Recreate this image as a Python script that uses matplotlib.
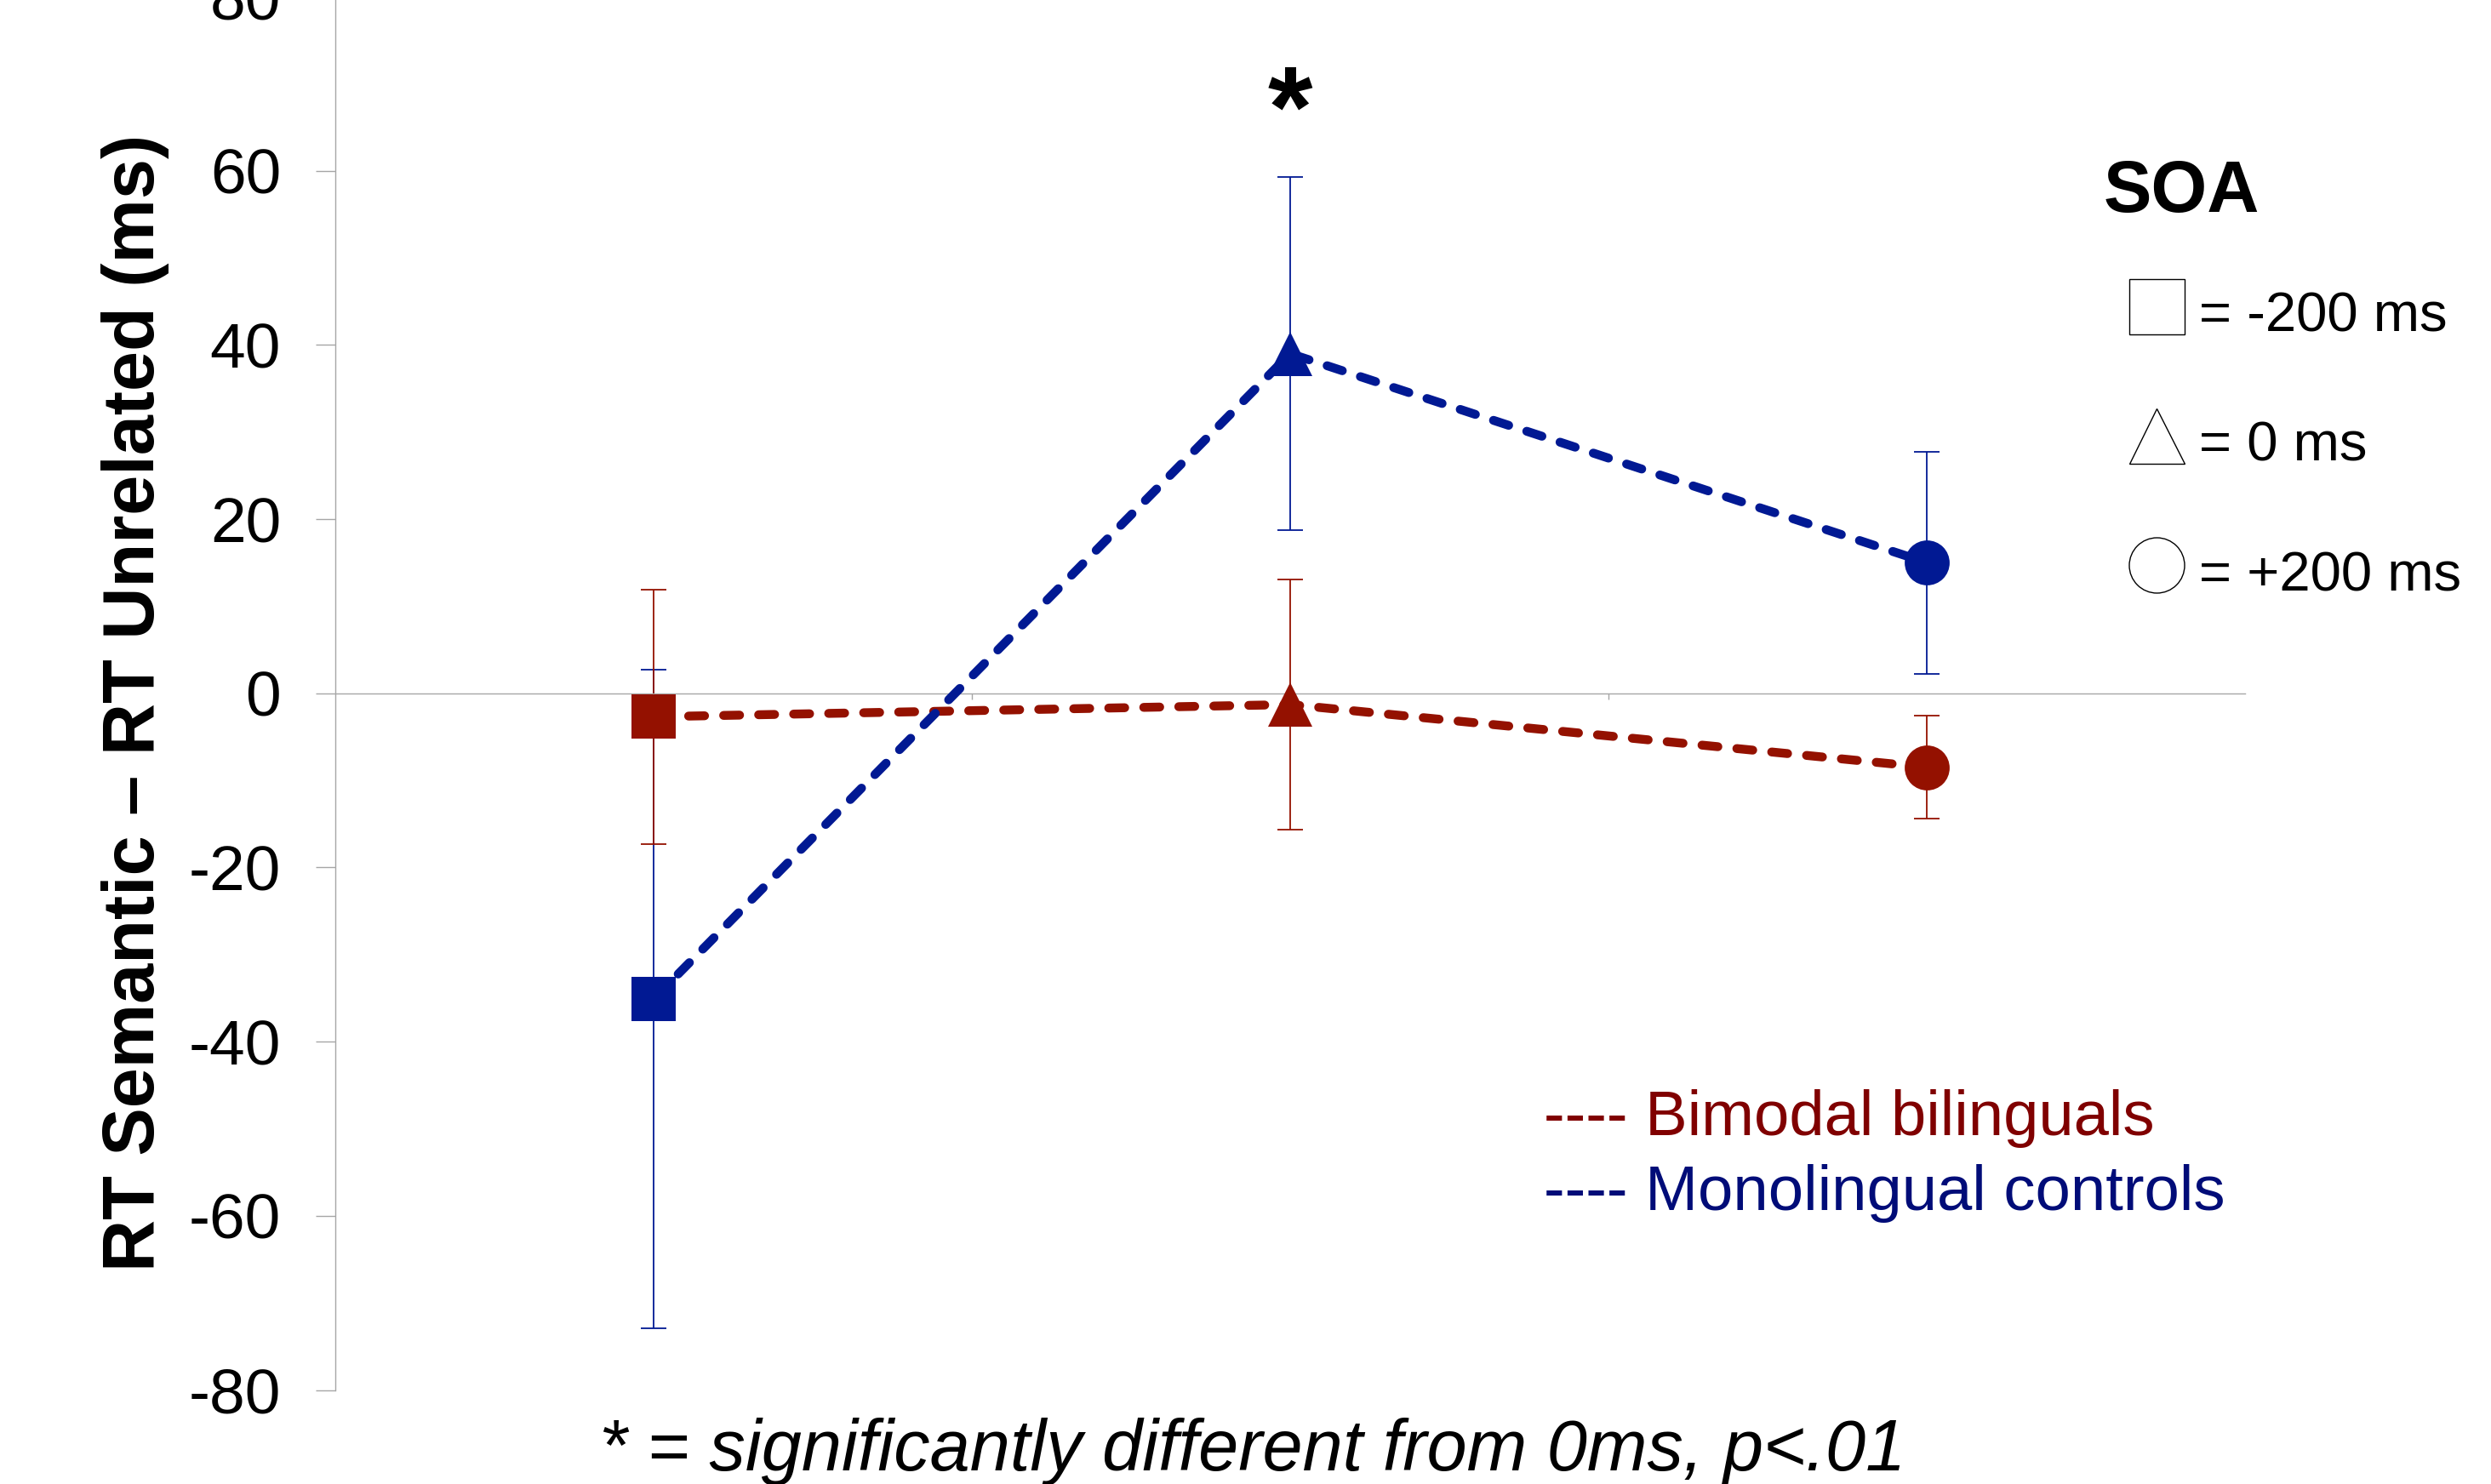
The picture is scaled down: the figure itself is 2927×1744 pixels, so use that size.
import matplotlib
matplotlib.use("Agg")
import matplotlib.pyplot as plt
from matplotlib.lines import Line2D

plt.rcParams['font.family'] = ['Liberation Sans', 'DejaVu Sans']

# SOA conditions (categories on the x axis)
soa_labels = ["= -200 ms", "= 0 ms", "= +200 ms"]
soa_markers = ["s", "^", "o"]

# priming effect (RT semantic - RT unrelated), ms
bimodal_mean = [-2.7, -1.3, -8.5]
bimodal_err = [14.6, 14.4, 5.9]
mono_mean = [-35.1, 39.0, 15.0]
mono_err = [37.8, 20.3, 12.75]

yticks = [-80, -60, -40, -20, 0, 20, 40, 60, 80]

red = "#941100"
blue = "#011993"
grey = "#a6a6a6"

W, H = 2927, 1744
fig = plt.figure(figsize=(W / 100, H / 100), dpi=100)
ax = fig.add_axes([394 / W, 110.5 / H, 2244 / W, 1637.6 / H])

x = list(range(len(soa_markers)))

# error bars
ax.errorbar(x, mono_mean, yerr=mono_err, fmt="none", ecolor=blue,
            elinewidth=1.3, capsize=11, capthick=1.3, zorder=2)
ax.errorbar(x, bimodal_mean, yerr=bimodal_err, fmt="none", ecolor=red,
            elinewidth=1.3, capsize=11, capthick=1.3, zorder=2.1)

# dashed connecting lines
ax.plot(x, bimodal_mean, color=red, lw=7.5, linestyle=(0, (1.8, 2.15)),
        dash_capstyle="round", zorder=3)
ax.plot(x, mono_mean, color=blue, lw=7.5, linestyle=(0, (1.8, 2.15)),
        dash_capstyle="round", zorder=3.1)

# markers, one shape per SOA
for i in x:
    ax.plot(x[i], bimodal_mean[i], marker=soa_markers[i], ms=38, mew=0,
            color=red, linestyle="none", zorder=4)
    ax.plot(x[i], mono_mean[i], marker=soa_markers[i], ms=38, mew=0,
            color=blue, linestyle="none", zorder=4)

ax.set_xlim(-0.5, 2.5)
ax.set_ylim(-80, 80)
ax.set_yticks(yticks)
ax.set_yticklabels([str(t) for t in yticks])
ax.set_xticks([0.5, 1.5])
ax.set_xticklabels([])

for s in ["top", "right"]:
    ax.spines[s].set_visible(False)
ax.spines["bottom"].set_position(("data", 0))
ax.spines["left"].set_color(grey)
ax.spines["bottom"].set_color(grey)
ax.spines["left"].set_linewidth(1.0)
ax.spines["bottom"].set_linewidth(1.0)
ax.tick_params(axis="y", direction="out", length=16.5, width=1.0, color=grey,
               labelsize=54, pad=29.5, labelcolor="black")
ax.tick_params(axis="x", direction="out", length=5, width=1.0, color=grey)

ax.set_ylabel("RT Semantic \u2013 RT Unrelated (ms)", fontsize=61, fontweight="bold")
ax.yaxis.set_label_coords(-0.0869, 0.493)

# significance marker
ax.text(1.0, 62.8, "*", ha="center", va="baseline", fontsize=97, fontweight="bold")

# SOA key
fig.text(2472 / W, 1 - 249.3 / H, "SOA", ha="left", va="baseline",
         fontsize=61, fontweight="bold")
handles = [Line2D([], [], marker=m, linestyle="none", mfc="white", mec="black",
                  mew=1.0, ms=46.8) for m in soa_markers]
fig.legend(handles, soa_labels, loc="upper left",
           bbox_to_anchor=(2501.5 / W, 1 - 329.5 / H), bbox_transform=fig.transFigure,
           fontsize=47, handlelength=1.0, handleheight=1.44, handletextpad=0.27,
           labelspacing=1.15, borderpad=0, borderaxespad=0, frameon=False)

# group key
fig.text(1813.5 / W, 1 - 1334.3 / H, "---- Bimodal bilinguals", color="#800000",
         ha="left", va="baseline", fontsize=53.5)
fig.text(1813.5 / W, 1 - 1421.7 / H, "---- Monolingual controls", color="#000c78",
         ha="left", va="baseline", fontsize=53.5)

# footnote
fig.text(704 / W, 16.3 / H, "* = significantly different from 0ms, p<.01",
         ha="left", va="baseline", fontsize=61, style="italic")

fig.savefig("out.png", dpi=100)
